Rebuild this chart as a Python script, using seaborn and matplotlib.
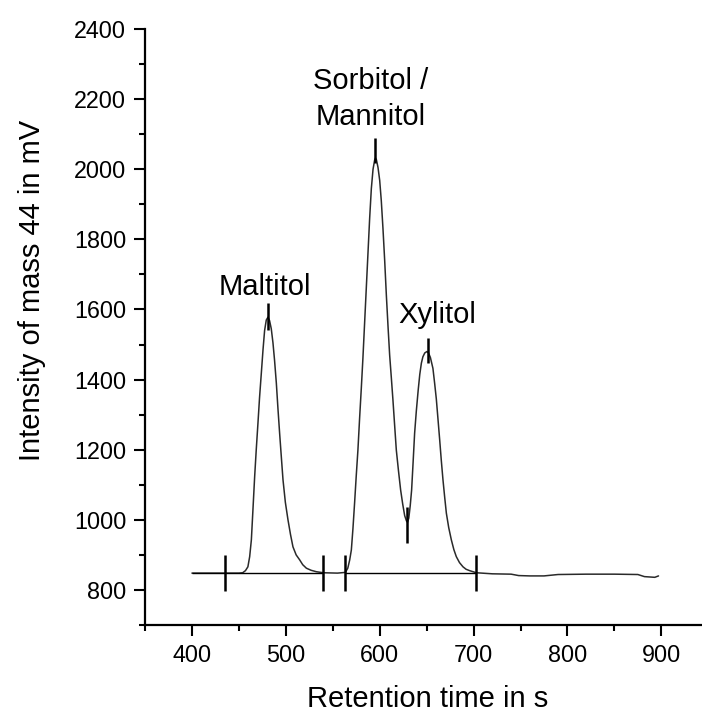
import matplotlib
matplotlib.use("Agg")
import matplotlib.pyplot as plt
from matplotlib.ticker import MultipleLocator
import seaborn as sns
import pandas as pd

# ---------------- data ----------------
retention_time = [
    400, 430, 450, 454, 457, 459.6, 461.5, 463.3, 465, 466.8, 468.5, 470.3, 472,
    473.9, 475.7, 477.4, 479.2, 481, 482.7, 484.5, 486.3, 488, 489.9, 491.6,
    493.4, 495.2, 497, 499.5, 502.3, 505, 507.6, 511, 514.7, 518, 521.9, 527,
    532.5, 540, 555,
    563.4, 566, 568, 569.8, 571.5, 573.3, 575, 576.8, 578.6, 580.4, 582.1,
    583.9, 585.7, 587.5, 589.3, 591.1, 592.9, 594.6, 595.5, 596.5, 598.2, 600,
    601.7, 603.5, 605.3, 607.1, 608.9, 610.6, 612.4, 614.1, 615.9, 617.7, 620,
    622.3, 624.5, 626.6, 628.5, 629.6, 631, 632.5, 634, 635.6, 637.2, 639, 641,
    642.7, 644.4, 646, 648, 650.3, 652, 654, 656.7, 658.5, 660.3, 662, 663.9,
    665.6, 667.4, 669.2, 671, 673.5, 676.3, 679, 681.6, 685, 688.7, 692, 695.8,
    701.8, 703,
    720, 740, 748, 760, 775, 790, 820, 850, 875, 882, 893, 897,
]
intensity = [
    848, 848, 848, 849, 855, 866, 895, 943, 1030, 1123, 1200, 1275, 1348,
    1418, 1485, 1540, 1570, 1578, 1568, 1545, 1505, 1455, 1390, 1318,
    1247, 1180, 1114, 1050, 1000, 958, 923, 900, 886, 872, 862, 856,
    852, 849, 848,
    850, 862, 885, 914, 975, 1050, 1125, 1199, 1290, 1375, 1460,
    1560, 1660, 1760, 1860, 1945, 2000, 2026, 2032, 2027, 2005, 1968,
    1910, 1830, 1740, 1640, 1550, 1470, 1405, 1342, 1270, 1199, 1140,
    1085, 1045, 1012, 997, 993, 1005, 1040, 1085, 1165, 1247, 1310, 1370,
    1415, 1447, 1465, 1476, 1480, 1476, 1463, 1432, 1390, 1345, 1290, 1228,
    1170, 1114, 1065, 1019, 978, 943, 915, 895, 878, 866, 859, 855,
    850, 849,
    846, 845, 841, 840, 840, 844, 845, 845, 844, 838, 836, 840,
]

# integration baselines (start, end, level)
baseline_start = [400, 435, 563.4]
baseline_end = [435, 540, 703]
baseline_level = [848, 848, 848]

# peak-start / peak-end markers
boundary_times = [435, 540, 563.4, 703]
boundary_low = [798, 798, 798, 798]
boundary_high = [900, 900, 900, 900]

# apex / valley markers
apex_times = [481, 595.5, 629.6, 651]
apex_low = [1542, 2018, 933, 1447]
apex_high = [1618, 2088, 1038, 1518]

peak_labels = ["Maltitol", "Sorbitol /", "Mannitol", "Xylitol"]
label_x = [478, 590, 590, 661]
label_y = [1641, 2229, 2126, 1562]

x_ticks = [400, 500, 600, 700, 800, 900]
y_ticks = [800, 1000, 1200, 1400, 1600, 1800, 2000, 2200, 2400]

# ---------------- style ----------------
sns.set_style("ticks")
plt.rcParams["font.family"] = ["Liberation Sans", "DejaVu Sans"]
plt.rcParams["text.color"] = "black"
plt.rcParams["axes.labelcolor"] = "black"

W, H = 702, 713
fig = plt.figure(figsize=(W / 100, H / 100), dpi=100)
ax_left, ax_bottom = 145, 625
ax_w = 600 * 0.9388
ax_h = 625 - 29
ax = fig.add_axes([ax_left / W, (H - ax_bottom) / H, ax_w / W, ax_h / H])

df = pd.DataFrame({"t": retention_time, "I": intensity})
sns.lineplot(data=df, x="t", y="I", ax=ax, color="#2a2a2a", lw=1.1,
             estimator=None, sort=False)

ax.hlines(baseline_level, baseline_start, baseline_end, color="black", lw=1.0)
ax.vlines(boundary_times, boundary_low, boundary_high, color="black", lw=1.8)
ax.vlines(apex_times, apex_low, apex_high, color="black", lw=1.8)

for txt, xx, yy in zip(peak_labels, label_x, label_y):
    ax.text(xx, yy, txt, ha="center", va="baseline", fontsize=21, color="black")

ax.set_xlim(350, 950)
ax.set_ylim(700, 2400)
ax.set_xticks(x_ticks)
ax.set_yticks(y_ticks)
ax.xaxis.set_minor_locator(MultipleLocator(50))
ax.yaxis.set_minor_locator(MultipleLocator(100))

for s in ["top", "right"]:
    ax.spines[s].set_visible(False)
for s in ["left", "bottom"]:
    ax.spines[s].set_linewidth(1.6)
    ax.spines[s].set_color("black")

ax.tick_params(axis="both", which="major", direction="out", length=8,
               width=1.5, labelsize=16.8, colors="black", pad=5.5)
ax.tick_params(axis="both", which="minor", direction="out", length=4.5,
               width=1.5, colors="black")

ax.set_xlabel("Retention time in s", fontsize=21, color="black")
ax.set_ylabel("Intensity of mass 44 in mV", fontsize=21, color="black")
ax.xaxis.label.set_va("baseline")
ax.xaxis.set_label_coords((428 - ax_left) / ax_w, (ax_bottom - 707) / ax_h)
ax.yaxis.label.set_va("center")
ax.yaxis.set_label_coords((32 - ax_left) / ax_w, (ax_bottom - 290.5) / ax_h)

fig.savefig("out.png", dpi=100)
